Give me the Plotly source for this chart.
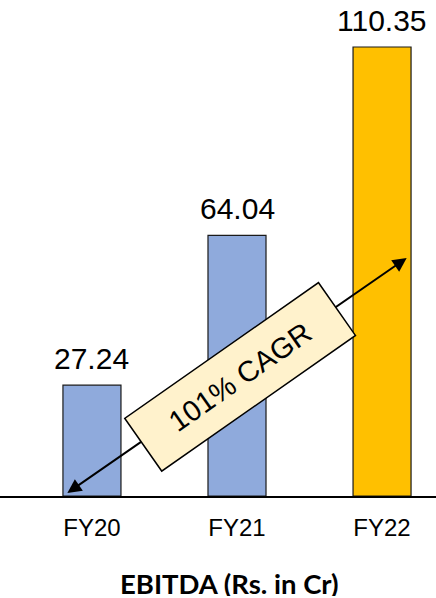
import plotly.graph_objects as go

# EBITDA by financial year (Rs. in Cr)
years = ["FY20", "FY21", "FY22"]
ebitda = [27.24, 64.04, 110.35]
bar_colors = ["#8FAADC", "#8FAADC", "#FFC000"]
value_labels = ["27.24", "64.04", "110.35"]
cagr_text = "101% CAGR"
chart_title = "EBITDA (Rs. in Cr)"

FONT = "Liberation Sans, Arial, sans-serif"

fig = go.Figure(
    go.Bar(
        x=list(range(len(years))),
        y=ebitda,
        width=0.4,
        marker=dict(color=bar_colors, line=dict(color="#1a1a1a", width=1.2)),
        hoverinfo="skip",
    )
)

annotations = []
# value labels above each bar
for i, (v, t) in enumerate(zip(ebitda, value_labels)):
    annotations.append(dict(
        x=i, y=v, xref="x", yref="y", text=t, showarrow=False,
        yanchor="middle", yshift=27,
        font=dict(family=FONT, size=30, color="#000000"),
    ))

# double-headed growth arrow from FY20 base towards FY22
arrow_start = (-0.18, 0.5)
arrow_end = (2.17, 58.5)
annotations.append(dict(
    x=arrow_end[0], y=arrow_end[1], ax=arrow_start[0], ay=arrow_start[1],
    xref="x", yref="y", axref="x", ayref="y", text="",
    showarrow=True, arrowhead=2, startarrowhead=2, arrowside="end+start",
    arrowsize=1.4, startarrowsize=1.4, arrowwidth=2, arrowcolor="#000000",
    standoff=0, startstandoff=0,
))

# CAGR callout box, rotated along the arrow
annotations.append(dict(
    x=1.02, y=29.3, xref="x", yref="y", text=cagr_text, showarrow=False,
    textangle=-35, width=235, height=63, align="center", valign="middle",
    bgcolor="#FFF2CC", bordercolor="#000000", borderwidth=1.5, borderpad=0,
    font=dict(family=FONT, size=29, color="#000000"),
))

# chart caption under the axis
annotations.append(dict(
    x=0.527, y=-0.175, xref="paper", yref="paper", text="<b>" + chart_title + "</b>",
    showarrow=False, yanchor="middle", height=26,
    font=dict(family="Lato", size=27.5, color="#000000"),
))

fig.update_layout(
    width=436, height=598,
    margin=dict(l=0, r=0, t=0, b=102),
    plot_bgcolor="#FFFFFF", paper_bgcolor="#FFFFFF",
    showlegend=False,
    annotations=annotations,
    xaxis=dict(
        range=[-0.634, 2.372],
        tickmode="array", tickvals=list(range(len(years))), ticktext=years,
        showgrid=False, zeroline=False,
        showline=True, linecolor="#000000", linewidth=1.5,
        ticks="", ticklabelstandoff=9,
        tickfont=dict(family=FONT, size=24, color="#000000"),
        fixedrange=True,
    ),
    yaxis=dict(
        range=[0, 121.9], visible=False, showgrid=False, zeroline=False,
        fixedrange=True,
    ),
)

fig.write_html("out.html")
